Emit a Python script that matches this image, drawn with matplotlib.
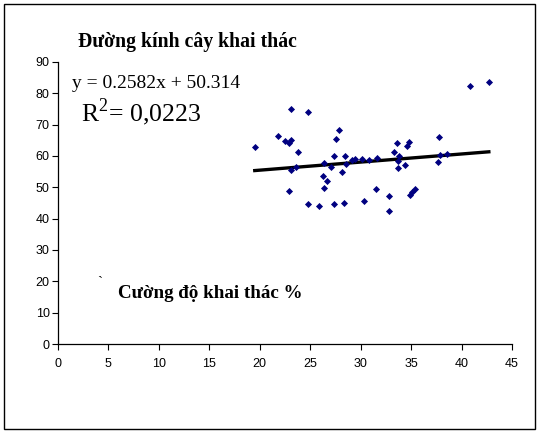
import matplotlib.pyplot as plt
import numpy as np
from matplotlib.patches import Rectangle

plt.rcParams["font.family"] = ["Liberation Sans", "DejaVu Sans"]
plt.rcParams["mathtext.fontset"] = "custom"
plt.rcParams["mathtext.rm"] = "Liberation Serif"

# cường độ khai thác (%) và đường kính cây khai thác
cuong_do = [
    19.5, 21.8, 22.5, 23.1, 22.9, 23.1, 24.8, 23.8, 23.1, 23.6,
    22.9, 24.8, 25.9, 27.4, 28.3, 30.3, 27.8, 27.6, 27.4, 28.4,
    26.4, 27.1, 28.1, 28.5, 29.1, 29.4, 30.1, 30.8, 31.6, 26.3,
    26.7, 26.4, 31.5, 32.8, 32.8, 33.6, 34.8, 34.6, 33.3, 33.8,
    33.7, 34.4, 33.7, 34.9, 35.1, 35.4, 37.8, 37.9, 38.6, 37.7,
    40.8, 42.7,
]
duong_kinh = [
    63.0, 66.3, 64.9, 65.1, 64.0, 75.1, 73.9, 61.4, 55.4, 56.5,
    48.8, 44.6, 44.0, 44.6, 45.1, 45.6, 68.3, 65.3, 60.1, 59.9,
    57.7, 56.4, 54.9, 57.4, 58.6, 59.2, 58.9, 58.7, 59.5, 53.7,
    51.9, 49.7, 49.4, 47.2, 42.6, 64.3, 64.5, 63.2, 61.2, 60.0,
    58.3, 57.1, 56.2, 47.7, 48.6, 49.4, 66.2, 60.2, 60.7, 58.1,
    82.3, 83.5,
]
slope = 0.2582
intercept = 50.314
r2_label = "0,0223"

x_ticks = [0, 5, 10, 15, 20, 25, 30, 35, 40, 45]
y_ticks = [0, 10, 20, 30, 40, 50, 60, 70, 80, 90]

fig = plt.figure(figsize=(5.39, 4.32), dpi=100)
ax = fig.add_axes([0.1076, 0.2037, 0.8424, 0.6528])

ax.scatter(cuong_do, duong_kinh, marker="D", s=13, color="#000080",
           linewidths=0, zorder=3)

x_fit = np.array([min(cuong_do), max(cuong_do)])
ax.plot(x_fit, slope * x_fit + intercept, color="black", lw=2.4, zorder=2)

ax.set_xlim(0, 45)
ax.set_ylim(0, 90)
ax.set_xticks(x_ticks)
ax.set_yticks(y_ticks)
ax.tick_params(labelsize=9, length=4, width=0.8, pad=2)
ax.tick_params(axis="x", pad=6)
for side in ("top", "right"):
    ax.spines[side].set_visible(False)
for side in ("left", "bottom"):
    ax.spines[side].set_linewidth(0.9)

serif = ["Liberation Serif", "DejaVu Serif"]
fig.text(78 / 539, 1 - 42 / 432, "Đường kính cây khai thác", family=serif,
         fontsize=14.2, fontweight="bold", va="center", ha="left")
fig.text(72 / 539, 1 - 84 / 432, f"y = {slope}x + {intercept}", family=serif,
         fontsize=14, va="center", ha="left")
fig.text(81 / 539, 1 - 112 / 432, f"R$^2$= {r2_label}", family=serif,
         fontsize=18.5, va="center", ha="left")
fig.text(97 / 539, 1 - 283 / 432, "`", family=serif, fontsize=11,
         va="center", ha="left")
fig.text(118 / 539, 1 - 293 / 432, "Cường độ khai thác %", family=serif,
         fontsize=13.7, fontweight="bold", va="center", ha="left")

fig.patches.append(Rectangle((4 / 539, 3 / 432), 531 / 539, 425 / 432,
                             transform=fig.transFigure, fill=False,
                             edgecolor="black", lw=1.0))

fig.savefig("out.png", dpi=100)
